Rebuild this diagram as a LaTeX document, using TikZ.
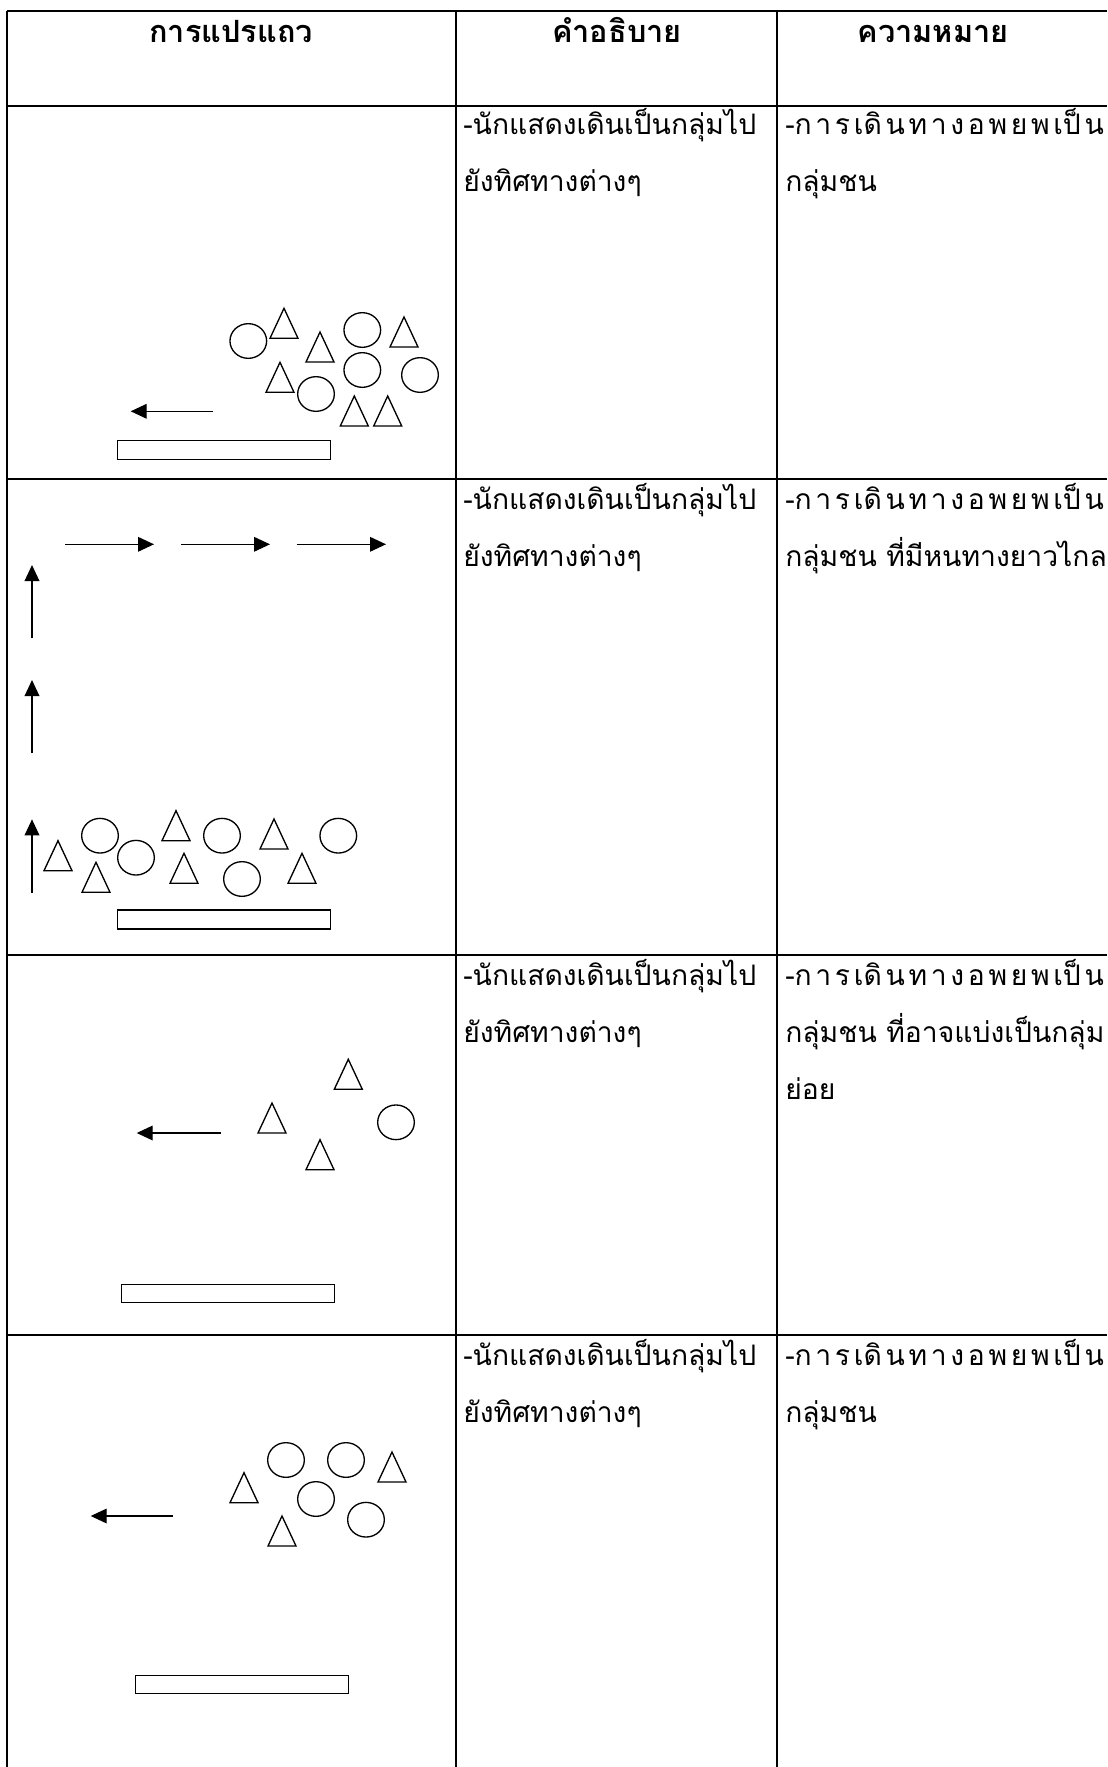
\documentclass[tikz,border=0pt]{standalone}
\usepackage{fontspec}
\usetikzlibrary{shapes.geometric,arrows.meta}
\newfontfamily\thaifont[Script=Thai]{Loma}
\newcommand{\spreadline}{\hbox to 239pt{-ก\hfil า\hfil ร\hfil เดิ\hfil น\hfil ท\hfil า\hfil ง\hfil อ\hfil พ\hfil ย\hfil พ\hfil เป็\hfil น}}
\newcommand{\dancertri}[2]{\draw[line width=1pt] ({#1-14},{#2}) -- ({#1},{#2-30}) -- ({#1+14},{#2}) -- cycle;}

\begin{document}
\begin{tikzpicture}[x=0.75pt,y=-0.75pt]
						\tikzstyle{tableline}=[line width=1.5pt]
						\tikzstyle{dancer}=[ellipse,draw=black,line width=1pt,minimum width=27.5pt,minimum height=26pt,inner sep=0pt]
						\tikzstyle{walk}=[line width=1pt,-{Triangle[length=12pt,width=11pt]}]
						\tikzstyle{stagebar}=[draw=black,line width=1pt]
						\tikzstyle{celltext}=[anchor=base west,inner sep=0pt,font=\thaifont\fontsize{21.2}{25}\selectfont]
						\tikzstyle{headtext}=[anchor=base,inner sep=0pt,font=\thaifont\bfseries\fontsize{23}{27}\selectfont]
						\useasboundingbox (0,0) rectangle (1107,1767);
						% table
						\draw[tableline] (7,11) -- (1107,11);
						\draw[tableline] (7,106) -- (1107,106);
						\draw[tableline] (7,479) -- (1107,479);
						\draw[tableline] (7,955) -- (1107,955);
						\draw[tableline] (7,1335) -- (1107,1335);
						\draw[tableline] (7,11) -- (7,1767);
						\draw[tableline] (456,11) -- (456,1767);
						\draw[tableline] (777,11) -- (777,1767);
						\node[headtext](h1) at (231,42) {การแปรแถว};
						\node[headtext](h2) at (617,42) {คำอธิบาย};
						\node[headtext](h3) at (933,42) {ความหมาย};
						% row 1
						\node[dancer](c11) at (248.3,341) {};
						\node[dancer](c12) at (362.3,330) {};
						\node[dancer](c13) at (362.3,370) {};
						\node[dancer](c14) at (316,394) {};
						\node[dancer](c15) at (420,375) {};
						\dancertri{284}{338.3}
						\dancertri{320}{362}
						\dancertri{404}{347}
						\dancertri{280}{392.3}
						\dancertri{354.3}{426}
						\dancertri{387.7}{426}
						\draw[walk] (212.7,411.3) -- (130.7,411.3);
						\draw[stagebar] (117.7,440.7) rectangle (330.7,459.3);
						\node[celltext](d1a) at (463,134) {-นักแสดงเดินเป็นกลุ่มไป};
						\node[celltext](d1b) at (463,191) {ยังทิศทางต่างๆ};
						\node[celltext](m1a) at (785,134) {\spreadline};
						\node[celltext](m1b) at (785,191) {กลุ่มชน};
						% row 2
						\draw[walk] (65,544.3) -- (154,544.3);
						\draw[walk] (181,544.3) -- (270,544.3);
						\draw[walk] (296.7,544.3) -- (386,544.3);
						\draw[walk] (32,638.3) -- (32,565);
						\draw[walk] (32,753.3) -- (32,680);
						\draw[walk] (32,893.3) -- (32,819.3);
						\node[dancer](c21) at (100,835.7) {};
						\node[dancer](c22) at (136,857.7) {};
						\node[dancer](c23) at (222,835.7) {};
						\node[dancer](c24) at (242,879) {};
						\node[dancer](c25) at (338.3,835.7) {};
						\dancertri{58}{870.7}
						\dancertri{96}{892.3}
						\dancertri{176}{840.7}
						\dancertri{184}{883.3}
						\dancertri{274}{849}
						\dancertri{302}{883.3}
						\draw[stagebar] (117.7,910) rectangle (330.7,929);
						\node[celltext](d2a) at (463,509) {-นักแสดงเดินเป็นกลุ่มไป};
						\node[celltext](d2b) at (463,566) {ยังทิศทางต่างๆ};
						\node[celltext](m2a) at (785,509) {\spreadline};
						\node[celltext](m2b) at (785,566) {กลุ่มชน ที่มีหนทางยาวไกล};
						% row 3
						\dancertri{348.3}{1089.3}
						\dancertri{272}{1133}
						\dancertri{320}{1169.7}
						\node[dancer](c31) at (396,1122.3) {};
						\draw[walk] (220.7,1133) -- (136.7,1133);
						\draw[stagebar] (121.7,1284.3) rectangle (334.3,1302.7);
						\node[celltext](d3a) at (463,985) {-นักแสดงเดินเป็นกลุ่มไป};
						\node[celltext](d3b) at (463,1042) {ยังทิศทางต่างๆ};
						\node[celltext](m3a) at (785,985) {\spreadline};
						\node[celltext](m3b) at (785,1042) {กลุ่มชน ที่อาจแบ่งเป็นกลุ่ม};
						\node[celltext](m3c) at (785,1099) {ย่อย};
						% row 4
						\node[dancer](c41) at (286,1460) {};
						\node[dancer](c42) at (346,1460) {};
						\node[dancer](c43) at (316,1499) {};
						\node[dancer](c44) at (366,1519.7) {};
						\dancertri{244}{1502.7}
						\dancertri{392}{1482}
						\dancertri{282}{1546}
						\draw[walk] (172.7,1516) -- (90.7,1516);
						\draw[stagebar] (135.7,1675.3) rectangle (348.7,1693.7);
						\node[celltext](d4a) at (463,1365) {-นักแสดงเดินเป็นกลุ่มไป};
						\node[celltext](d4b) at (463,1422) {ยังทิศทางต่างๆ};
						\node[celltext](m4a) at (785,1365) {\spreadline};
						\node[celltext](m4b) at (785,1422) {กลุ่มชน};
					\end{tikzpicture}
\end{document}
